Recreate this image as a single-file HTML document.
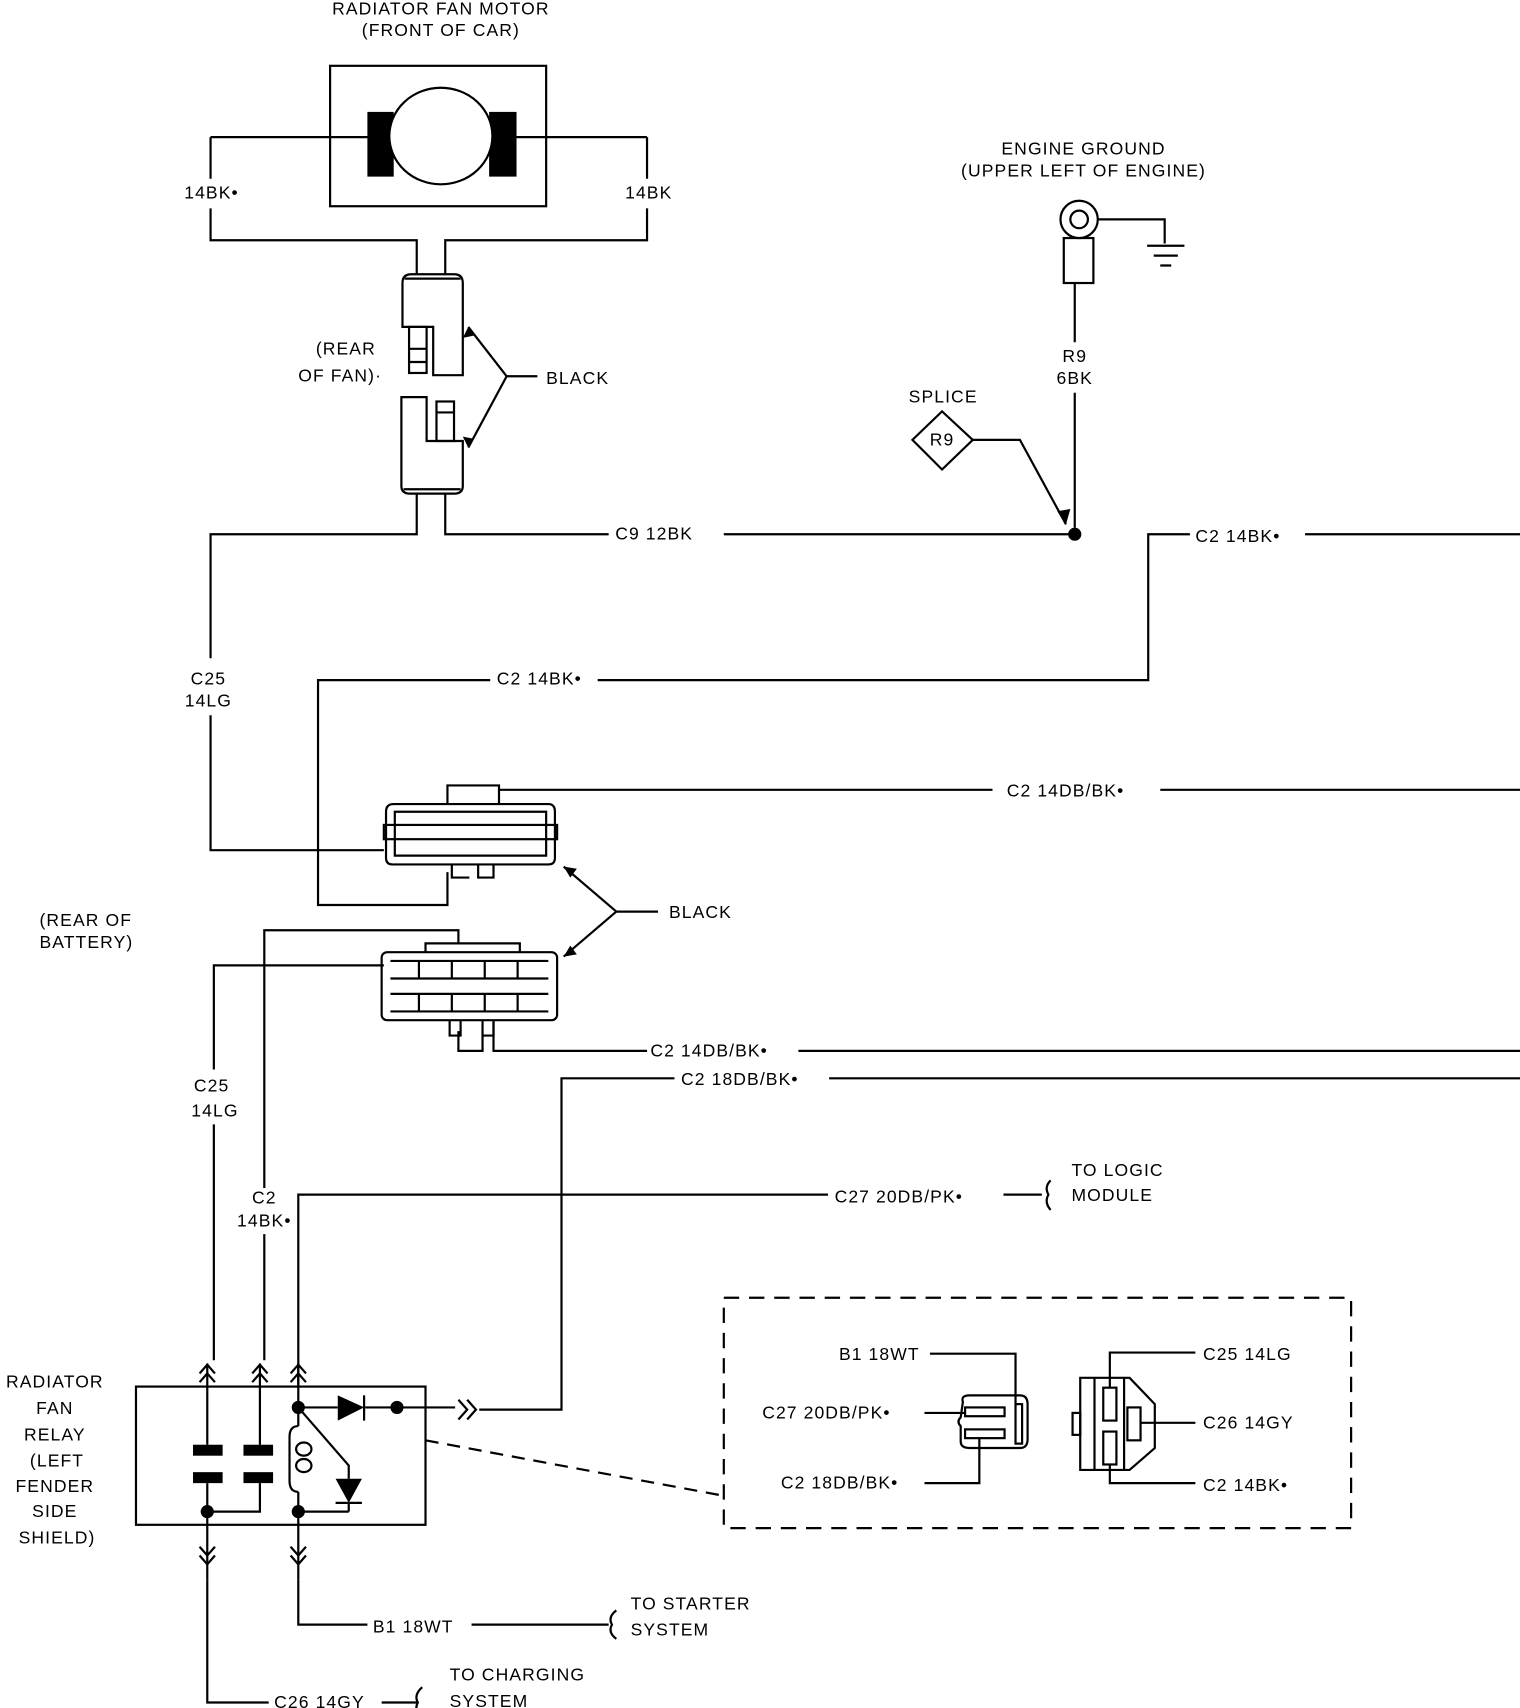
<!DOCTYPE html>
<html><head><meta charset="utf-8"><style>
html,body{margin:0;padding:0;background:#fff;}
svg{display:block;}
text{font-family:"Liberation Sans",sans-serif;font-size:16px;fill:#000;letter-spacing:1px;}
</style></head><body>
<svg width="1520" height="1708" viewBox="0 0 1386 1557" preserveAspectRatio="none" xmlns="http://www.w3.org/2000/svg">
<rect width="1386" height="1557" fill="#fff"/>
<g stroke="#000" stroke-width="2" fill="none">
<!-- motor -->
<rect x="301" y="60" width="197" height="128"/>
<rect x="336" y="103" width="22" height="57" fill="#000"/>
<rect x="447" y="103" width="23" height="57" fill="#000"/>
<ellipse cx="402" cy="124" rx="47" ry="44" fill="#fff"/>
<path d="M192,125 H336 M470,125 H590"/>
<path d="M192,125 V163 M192,190 V219 H380 V250 M590,125 V163 M590,190 V219 H406 V250"/>
<!-- upper fan connector -->
<path d="M367,258 Q367,250 375,250 H414 Q422,250 422,258 V342 H395 V298 H367 Z"/>
<path d="M369,254 H420"/>
<rect x="373" y="298" width="16" height="42"/>
<path d="M373,318 H389 M373,330 H389"/>
<path d="M366,362 H389 V402 H422 V443 Q422,450 414,450 H374 Q366,450 366,443 Z"/>
<path d="M368,446 H420"/>
<rect x="398" y="366" width="16" height="36"/>
<path d="M398,376 H414"/>
<path d="M462,343 H490 M462,343 L427,298 M462,343 L427,408"/>
<!-- wires from fan -->
<path d="M380,450 V487 H192 V600 M192,652 V775 H350"/>
<path d="M406,450 V487 H555 M660,487 H980"/>
<!-- ground -->
<circle cx="984" cy="200" r="17"/>
<circle cx="984" cy="200" r="8"/>
<rect x="970" y="217" width="27" height="41"/>
<path d="M1001,200 H1062 V222 M1046,224 H1080 M1052,233 H1074 M1058,242 H1068"/>
<path d="M980,258 V312 M980,358 V481"/>
<path d="M859,375 L887,401 L859,428 L832,401 Z"/>
<path d="M887,401 H930 L972,478"/>
<!-- C2 14BK right -->
<path d="M1190,487 H1386 M1085,487 H1047 V620 H545 M447,620 H290 V825 H408 V795"/>
<!-- upper big connector -->
<path d="M408,733 V716 H455 V733 M359,733 H500 Q506,733 506,740 V782 Q506,788 500,788 H358 Q352,788 352,782 V740 Q352,733 359,733 Z"/>
<path d="M360,740 H498 V780 H360 Z"/>
<rect x="350" y="752" width="158" height="13"/>
<path d="M455,720 H905 M1058,720 H1386"/>
<path d="M412,788 V800 H428 M436,788 V800 H450 V788"/>
<path d="M562,831 H600 M562,831 L514,790 M562,831 L514,872"/>
<!-- lower connector -->
<rect x="348" y="868" width="160" height="62" rx="5"/>
<path d="M388,868 V860 H474 V868"/>
<path d="M356,876 H500 M356,892 H500 M356,906 H500 M356,922 H500"/>
<path d="M382,876 V892 M412,876 V892 M442,876 V892 M472,876 V892 M382,906 V922 M412,906 V922 M442,906 V922 M472,906 V922"/>
<path d="M410,930 V944 H420 V930 M440,930 V944 H450 V930 M418,940 V958 H440 V940"/>
<path d="M241,1240 V1125 M241,1083 V848 H418 V860"/>
<path d="M195,1240 V1025 M195,975 V880 H350"/>
<path d="M450,930 V958 H590 M728,958 H1386"/>
<path d="M756,983 H1386 M615,983 H512 V1285 H437"/>
<path d="M272,1264 V1089 H755 M915,1089 H950"/>
<path d="M958,1076 Q952,1082 956,1089 Q952,1096 958,1103"/>
<!-- relay -->
<rect x="124" y="1264" width="264" height="126"/>
<path d="M189,1243 V1317 M237,1243 V1317 M272,1243 V1283"/>
<path d="M182,1252 L189,1244 L196,1252 M182,1260 L189,1252 L196,1260 M230,1252 L237,1244 L244,1252 M230,1260 L237,1252 L244,1260 M265,1252 L272,1244 L279,1252 M265,1260 L272,1252 L279,1260"/>
<path d="M189,1352 V1440 M237,1352 V1378 H189 M272,1283 V1300 M272,1360 V1440 M272,1378 H318"/>
<path d="M272,1300 Q264,1300 264,1310 V1350 Q264,1360 272,1360"/>
<ellipse cx="277" cy="1321" rx="7" ry="6"/><ellipse cx="277" cy="1336" rx="7" ry="6"/>
<path d="M182,1410 L189,1418 L196,1410 M182,1418 L189,1426 L196,1418 M265,1410 L272,1418 L279,1410 M265,1418 L272,1426 L279,1418"/>
<path d="M272,1283 H308 M333,1283 H415 M418,1276 L426,1285 L418,1294 M426,1276 L434,1285 L426,1294"/>
<path d="M272,1283 L318,1336 V1348 M318,1370 V1378"/>
<path d="M272,1440 V1481 H335 M430,1481 H555 M189,1440 V1552 H245 M348,1552 H380"/>
<path d="M562,1468 Q554,1474 558,1481 Q554,1488 562,1494 M385,1538 Q377,1545 381,1552 Q377,1559 385,1565"/>
<path d="M388,1313 L657,1363" stroke-dasharray="12,8"/>
<rect x="660" y="1183" width="572" height="210" stroke-dasharray="14,9"/>
<!-- small connector left -->
<path d="M878,1278 Q876,1272 884,1272 H930 Q937,1272 937,1280 V1312 Q937,1320 930,1320 H884 Q876,1320 876,1314 V1300 Q872,1296 876,1292 Z"/>
<rect x="880" y="1283" width="36" height="8"/>
<rect x="880" y="1303" width="36" height="8"/>
<rect x="926" y="1280" width="6" height="36"/>
<path d="M848,1234 H926 V1280 M843,1288 H880 M843,1352 H893 V1311"/>
<!-- right connector -->
<path d="M985,1256 H1030 L1053,1280 V1320 L1030,1340 H985 Z M998,1256 V1340 M1025,1256 V1340"/>
<rect x="978" y="1288" width="7" height="20"/>
<rect x="1006" y="1265" width="12" height="30"/>
<rect x="1006" y="1305" width="12" height="30"/>
<rect x="1028" y="1283" width="12" height="30"/>
<path d="M1012,1265 V1233 H1090 M1040,1297 H1090 M1012,1335 V1352 H1090"/>
</g>
<circle cx="980" cy="487" r="6"/>
<circle cx="272" cy="1283" r="6"/><circle cx="362" cy="1283" r="6"/>
<circle cx="189" cy="1378" r="6"/><circle cx="272" cy="1378" r="6"/>
<rect x="176" y="1317" width="27" height="10"/><rect x="176" y="1342" width="27" height="10"/>
<rect x="222" y="1317" width="27" height="10"/><rect x="222" y="1342" width="27" height="10"/>
<path d="M308,1272 L332,1283 L308,1295 Z"/><path d="M332,1272 V1295" stroke="#000" stroke-width="2"/>
<path d="M306,1348 L330,1348 L318,1370 Z"/><path d="M306,1370 H330" stroke="#000" stroke-width="2"/>
<path d="M427,298 L422,308 L432,306 Z M427,408 L422,398 L432,400 Z M972,478 L964,466 L976,464 Z M514,790 L520,800 L526,792 Z M514,872 L520,862 L526,870 Z"/>
<g text-anchor="middle">
<text x="402" y="13">RADIATOR FAN MOTOR</text>
<text x="402" y="33">(FRONT OF CAR)</text>
<text x="988" y="141">ENGINE GROUND</text>
<text x="988" y="161">(UPPER LEFT OF ENGINE)</text>
<text x="980" y="330">R9</text><text x="980" y="350">6BK</text>
<text x="860" y="367">SPLICE</text>
<text x="859" y="406" font-size="13">R9</text>
<text x="190" y="624">C25</text><text x="190" y="644">14LG</text>
<text x="193" y="995">C25</text><text x="196" y="1018">14LG</text>
<text x="241" y="1097">C2</text><text x="241" y="1118">14BK•</text>
<text x="50" y="1265">RADIATOR</text><text x="50" y="1289">FAN</text><text x="50" y="1313">RELAY</text>
<text x="52" y="1337">(LEFT</text><text x="50" y="1360">FENDER</text><text x="50" y="1383">SIDE</text><text x="52" y="1407">SHIELD)</text>
</g>
<text x="168" y="181">14BK•</text>
<text x="570" y="181">14BK</text>
<text x="288" y="323">(REAR</text>
<text x="272" y="348">OF FAN)·</text>
<text x="498" y="350">BLACK</text>
<text x="561" y="492">C9  12BK</text>
<text x="1090" y="494">C2  14BK•</text>
<text x="453" y="624">C2  14BK•</text>
<text x="918" y="726">C2  14DB/BK•</text>
<text x="610" y="837">BLACK</text>
<text x="36" y="844">(REAR  OF</text>
<text x="36" y="864">BATTERY)</text>
<text x="593" y="963">C2  14DB/BK•</text>
<text x="621" y="989">C2  18DB/BK•</text>
<text x="761" y="1096">C27  20DB/PK•</text>
<text x="977" y="1072">TO LOGIC</text>
<text x="977" y="1095">MODULE</text>
<text x="765" y="1240">B1  18WT</text>
<text x="695" y="1293">C27  20DB/PK•</text>
<text x="712" y="1357">C2  18DB/BK•</text>
<text x="1097" y="1240">C25  14LG</text>
<text x="1097" y="1302">C26  14GY</text>
<text x="1097" y="1359">C2  14BK•</text>
<text x="340" y="1488">B1  18WT</text>
<text x="575" y="1467">TO STARTER</text>
<text x="575" y="1491">SYSTEM</text>
<text x="250" y="1557">C26  14GY</text>
<text x="410" y="1532">TO CHARGING</text>
<text x="410" y="1556">SYSTEM</text>
</svg>
</body></html>
